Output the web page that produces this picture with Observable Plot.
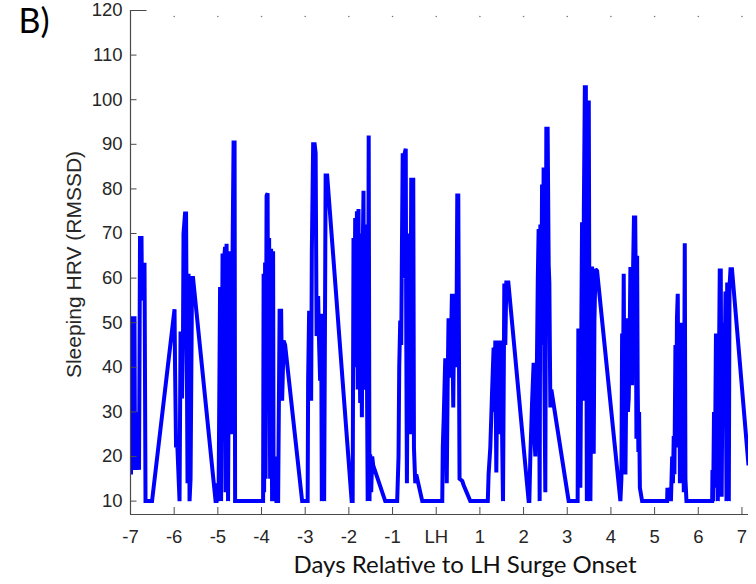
<!DOCTYPE html>
<html><head><meta charset="utf-8">
<script src="https://cdn.jsdelivr.net/npm/d3@7"></script>
<script src="https://cdn.jsdelivr.net/npm/@observablehq/plot@0.6"></script>
<style>body{margin:0;background:#fff;} #chart{width:756px;height:584px;}</style>
</head><body><div id="chart"></div>
<script>
// Days relative to LH surge onset (x) and sleeping HRV RMSSD (y)
const days = [
  -7.000,-6.989,-6.966,-6.943,-6.908,-6.897,-6.874,-6.851,-6.828,-6.805,-6.782,-6.748,-6.736,-6.714,-6.679,-6.656,-6.507,
  -5.992,-5.980,-5.957,-5.934,-5.877,-5.854,-5.820,-5.797,-5.786,-5.751,-5.728,-5.694,-5.671,-5.648,-5.625,-5.591,-5.568,-5.052,
  -5.029,-5.018,-4.984,-4.949,-4.938,-4.926,-4.892,-4.869,-4.846,-4.835,-4.823,-4.800,-4.777,-4.766,-4.743,-4.720,-4.697,-4.674,-4.640,-4.617,-4.605,-3.964,
  -3.952,-3.941,-3.918,-3.907,-3.884,-3.861,-3.849,-3.826,-3.803,-3.780,-3.758,-3.735,-3.723,-3.689,-3.659,-3.620,-3.586,-3.551,-3.528,-3.494,-3.460,-3.070,-2.967,
  -2.944,-2.933,-2.910,-2.887,-2.864,-2.848,-2.818,-2.784,-2.761,-2.739,-2.704,-2.681,-2.658,-2.635,-2.619,-2.589,-2.566,-2.532,-2.497,-1.936,
  -1.913,-1.894,-1.878,-1.855,-1.832,-1.816,-1.798,-1.780,-1.764,-1.741,-1.729,-1.702,-1.684,-1.665,-1.649,-1.626,-1.603,-1.587,-1.569,-1.546,-1.528,-1.512,-1.489,-1.466,-1.443,-1.168,-0.900,
  -0.894,-0.863,-0.847,-0.824,-0.801,-0.785,-0.767,-0.744,-0.721,-0.698,-0.687,-0.671,-0.652,-0.634,-0.618,-0.595,-0.572,-0.549,-0.526,-0.510,-0.480,-0.457,-0.320,0.131,
  0.138,0.150,0.172,0.207,0.241,0.260,0.282,0.321,0.360,0.390,0.413,0.459,0.482,0.505,0.534,0.596,0.631,0.780,1.162,
  1.181,1.199,1.238,1.277,1.314,1.330,1.353,1.376,1.405,1.433,1.451,1.483,1.501,1.529,1.559,1.582,1.605,1.651,2.116,
  2.132,2.155,2.194,2.230,2.247,2.269,2.308,2.326,2.345,2.368,2.384,2.407,2.423,2.441,2.459,2.475,2.498,2.521,2.551,2.575,2.590,2.613,2.636,3.032,3.225,
  3.238,3.254,3.277,3.300,3.323,3.339,3.362,3.380,3.403,3.426,3.449,3.472,3.493,3.507,3.530,3.569,3.587,3.606,3.622,3.645,3.683,4.217,
  4.240,4.256,4.274,4.293,4.313,4.332,4.355,4.371,4.389,4.407,4.428,4.446,4.469,4.485,4.504,4.527,4.556,4.572,4.584,4.600,4.613,4.629,4.645,4.663,4.714,5.287,
  5.294,5.317,5.351,5.374,5.402,5.420,5.438,5.454,5.477,5.493,5.512,5.530,5.546,5.562,5.580,5.603,5.626,5.649,5.668,5.691,5.706,5.729,6.318,
  6.325,6.341,6.360,6.378,6.405,6.428,6.447,6.492,6.515,6.536,6.554,6.584,6.600,6.623,6.646,6.662,6.681,6.699,6.715,6.738,6.772,7.150
];
const hrv = [
  28,16,30,51,51,17,30,17,30,17,69,69,55,63,63,10,10,
  53,40,22,24,10,48,33,48,70,74.5,74.5,14,61,10,15,60,60,10,
  10,14,10,58,30,10,65.5,40,65.5,67,12,67.7,35,10,55,66,25,54,90.4,90.4,10,10,
  61,12,63.5,15,78.5,79,45,69,15,66.6,10,66,10,20,10,10,52.7,52.7,32.5,46,45,10,10,
  10,37,52.7,40,32.5,66,90,90,88,47,56,45,37,52,10,52,10,83,83,10,
  10,69,45,73.5,40,75,35,75.5,50,32,70,28.8,65,79.6,35,47,72,40,10,92,10,20.5,12,20,18,10,10,
  10,20,40,50.5,45,67,88,60,88,89,50,14,50,70,40,25,82.5,50,82.5,22,14,16,10,10,
  10,22,28.8,42,14,34.5,51,37.7,56.5,31,56.5,40,78.5,78.5,15,14.5,13.5,10,10,
  10,16,22,34,44.4,30,46,16.4,46,25,28.8,46,30,10,58.8,45,59,59,10,
  10,20,32,41,25,20,43,60,71,10,72,50,81,45,84.8,40,12,93.5,93.5,63,59,31,35,10,10,
  10,48.7,40,13,50,72.5,32.5,75,102.8,102.8,10,80,99.8,50,10,62.6,40,20.6,50,62,61.6,10,
  15,47.6,30,61,20,16,40,51,30,33,45,62.5,40,36,60,73.6,73.6,55,24,65,36,21,30,13,10,10,
  13,10,13,10,20,14,24.6,16,45,22,51,56.5,30,50,14,47,25,50,12,67.8,15,10,10,
  17,10,30,13,47.6,45,10,61.7,61.7,11,40,50,35,57,10,59,35,10,58,62,62,18
];
const xTicks = [-7,-6,-5,-4,-3,-2,-1,0,1,2,3,4,5,6,7];
const xTickLabels = ["-7","-6","-5","-4","-3","-2","-1","LH","1","2","3","4","5","6","7"];
const yTicks = [10,20,30,40,50,60,70,80,90,100,110,120];
const xDomain = [-7, 7.15];
const yDomain = [7, 120];
const panelLabel = "B)";
const xLabel = "Days Relative to LH Surge Onset";
const yLabel = "Sleeping HRV (RMSSD)";

const W = 756, H = 584, mL = 130, mR = 8, mT = 10, mB = 70;
const fw = W - mL - mR, fh = H - mT - mB;
const data = days.map((d, i) => ({day: d, hrv: hrv[i]}));
const axisColor = "#4a4a4a";

const chart = Plot.plot({
  width: W, height: H,
  marginLeft: mL, marginRight: mR, marginTop: mT, marginBottom: mB,
  style: {fontFamily: "'Liberation Sans', Arial, sans-serif", fontSize: "18.5px", color: "#262626", background: "#fff", overflow: "visible"},
  x: {domain: xDomain, label: null},
  y: {domain: yDomain, label: null},
  marks: [
    Plot.line(data, {x: "day", y: "hrv", stroke: "#0000ff", strokeWidth: 4, strokeLinejoin: "miter", strokeMiterlimit: 2, strokeLinecap: "butt", clip: true}),
    Plot.ruleX([xDomain[0]], {stroke: axisColor, strokeWidth: 1.2}),
    Plot.ruleY([yDomain[0]], {stroke: axisColor, strokeWidth: 1.2}),
    Plot.ruleY(yTicks, {y: d => d, stroke: axisColor, insetRight: fw - 6.5}),
    Plot.ruleY([yTicks[yTicks.length - 1]], {y: d => d, stroke: axisColor, insetRight: fw - 16.5}),
    Plot.ruleX(xTicks, {x: d => d, stroke: axisColor, insetTop: fh - 7}),
    Plot.dot(xTicks.slice(1), {x: d => d, frameAnchor: "top", dy: 6, r: 0.8, fill: "#777", stroke: null}),
    Plot.axisX(xTicks, {tickSize: 0, tickPadding: 15, label: null, fontSize: 18.5, fill: "#262626", tickFormat: d => xTickLabels[xTicks.indexOf(d)]}),
    Plot.axisY(yTicks, {tickSize: 0, tickPadding: 8, label: null, fontSize: 18.5, fill: "#262626"}),
    Plot.text([panelLabel], {frameAnchor: "top-left", textAnchor: "start", lineAnchor: "bottom", dx: -112, dy: 22, fontSize: 34, fontFamily: "Lato, 'Open Sans', sans-serif", fill: "#000"}),
    Plot.text([yLabel], {frameAnchor: "left", textAnchor: "middle", lineAnchor: "middle", rotate: -90, dx: -56, dy: 2, fontSize: 21, fill: "#262626"}),
    Plot.text([xLabel], {frameAnchor: "bottom", textAnchor: "middle", lineAnchor: "bottom", dx: 25.5, dy: 58, fontSize: 24, fontFamily: "Lato, 'Open Sans', sans-serif", fill: "#111"})
  ]
});
document.getElementById("chart").appendChild(chart);
</script>
</body></html>
